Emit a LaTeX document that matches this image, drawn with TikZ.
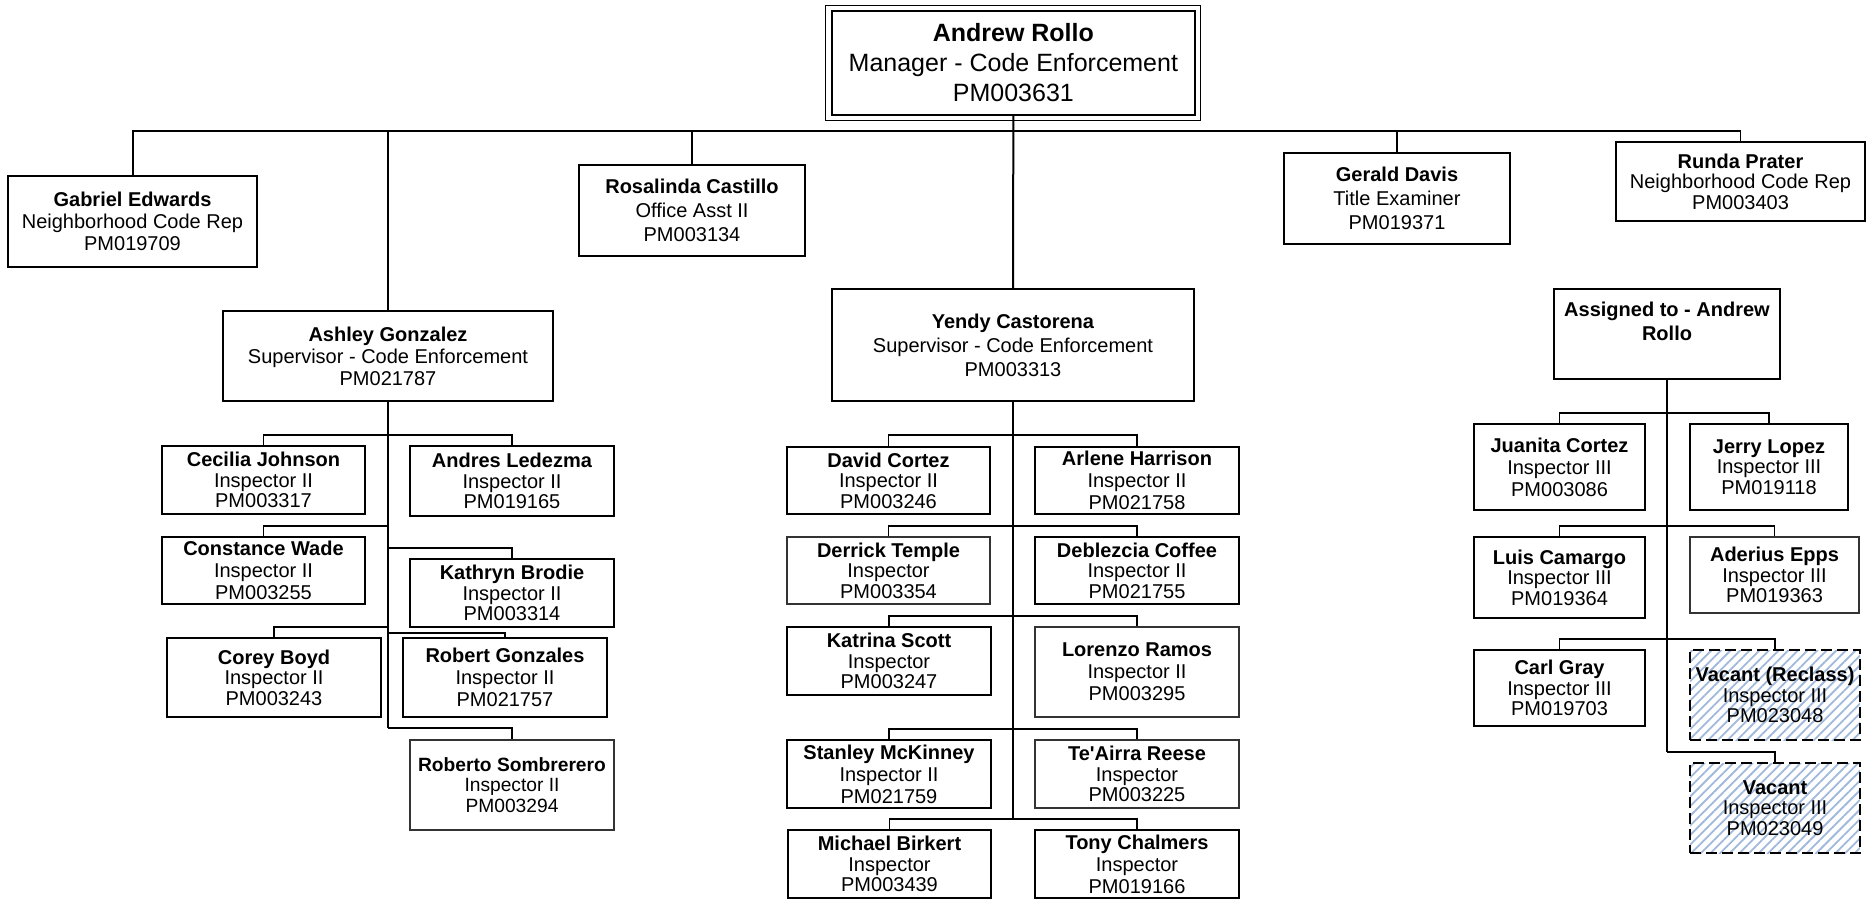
\documentclass[tikz,border=0pt]{standalone}
\usepackage{fontspec}
\setmainfont{Liberation Sans}
\newfontfamily\plainsans{Liberation Sans}
\usetikzlibrary{fit,patterns.meta}
\definecolor{hatchblue}{RGB}{160,184,220}
\newcommand{\orgbox}[8]{%
  \node[#1, fit={(#4,#5) (#6,#7)}] (#3) {};
  \node[#2] (#3-t) at (#3.center) {#8};
}
\begin{document}
\begin{tikzpicture}[x=0.5pt,y=-0.5pt,
  boxst/.style={draw=black, line width=0.85pt, inner sep=0pt},
  thinbox/.style={draw=black!80, line width=0.55pt, inner sep=0pt},
  vacbox/.style={draw=black, line width=0.85pt, dash pattern=on 5.5pt off 2.5pt, inner sep=0pt,
    pattern={Lines[angle=45,distance=3.4pt,line width=0.9pt]}, pattern color=hatchblue},
  txt/.style={align=center, font=\fontsize{10pt}{10.3pt}\selectfont, inner sep=0pt},
  txtm/.style={align=center, font=\fontsize{10pt}{11pt}\selectfont, inner sep=0pt},
  txtl/.style={align=center, font=\fontsize{10pt}{12pt}\selectfont, inner sep=0pt},
  txts/.style={align=center, font=\fontsize{9.6pt}{10.3pt}\selectfont, inner sep=0pt},
  toptxt/.style={align=center, font=\fontsize{12.5pt}{15pt}\selectfont, inner sep=0pt},
  trunk/.style={line width=1pt},
  br/.style={line width=0.7pt}]
\useasboundingbox (0,0) rectangle (1871,900);

% top box
\node[draw=black, line width=1pt, inner sep=0pt, fit={(831.7,11) (1195,115)}] (top) {};
\draw[line width=0.5pt] ([shift={(-2.5pt,2.2pt)}]top.north west) rectangle ([shift={(2.2pt,-2.2pt)}]top.south east);
\node[toptxt] (top-t) at (top.center) {\textbf{Andrew Rollo}\\Manager - Code Enforcement\\PM003631};

% direct reports
\orgbox{boxst}{txtm}{gab}{8}{176}{257}{267}{\textbf{Gabriel Edwards}\\Neighborhood Code Rep\\PM019709}
\orgbox{boxst}{txtl}{ros}{579}{165}{805}{256}{\textbf{Rosalinda Castillo}\\Office Asst II\\PM003134}
\orgbox{boxst}{txtl}{ger}{1284}{153}{1510}{244}{\textbf{Gerald Davis}\\Title Examiner\\PM019371}
\orgbox{boxst}{txt}{run}{1616}{142}{1865}{221}{\textbf{Runda Prater}\\Neighborhood Code Rep\\PM003403}
\orgbox{boxst}{txtm}{ash}{223}{311}{553}{401}{\textbf{Ashley Gonzalez}\\Supervisor - Code Enforcement\\PM021787}
\orgbox{boxst}{txtl}{yen}{832}{289}{1194}{401}{\textbf{Yendy Castorena}\\Supervisor - Code Enforcement\\PM003313}
\node[boxst, fit={(1554,289) (1780,379)}] (asg) {};
\node[txtl, yshift=6.5pt] (asg-t) at (asg.center) {\textbf{Assigned to - Andrew}\\\textbf{Rollo}};

% Ashley's team
\orgbox{boxst}{txt}{cec}{162}{446}{365}{514}{\textbf{Cecilia Johnson}\\Inspector II\\PM003317}
\orgbox{boxst}{txt}{and}{410}{446}{614}{516}{\textbf{Andres Ledezma}\\Inspector II\\PM019165}
\orgbox{boxst}{txtm}{con}{162}{537}{365}{604}{\textbf{Constance Wade}\\Inspector II\\PM003255}
\orgbox{boxst}{txt}{kat}{410}{559}{614}{627}{\textbf{Kathryn Brodie}\\Inspector II\\PM003314}
\orgbox{boxst}{txt}{cor}{167}{638}{381}{717}{\textbf{Corey Boyd}\\Inspector II\\PM003243}
\orgbox{boxst}{txtm}{rgo}{403}{638}{607}{717}{\textbf{Robert Gonzales}\\Inspector II\\PM021757}
\orgbox{thinbox}{txts}{rso}{410}{740}{614}{830}{\textbf{Roberto Sombrerero}\\Inspector II\\PM003294}

% Yendy's team
\orgbox{boxst}{txt}{dav}{787}{447}{990}{514}{\textbf{David Cortez}\\Inspector II\\PM003246}
\orgbox{boxst}{txtm}{arl}{1035}{447}{1239}{514}{\textbf{Arlene Harrison}\\Inspector II\\PM021758}
\orgbox{thinbox}{txt}{der}{787}{537}{990}{604}{\textbf{Derrick Temple}\\Inspector\\PM003354}
\orgbox{boxst}{txt}{deb}{1035}{537}{1239}{604}{\textbf{Deblezcia Coffee}\\Inspector II\\PM021755}
\orgbox{boxst}{txt}{ksc}{787}{627}{991}{695}{\textbf{Katrina Scott}\\Inspector\\PM003247}
\orgbox{thinbox}{txtm}{lor}{1035}{627}{1239}{717}{\textbf{Lorenzo Ramos}\\Inspector II\\PM003295}
\orgbox{boxst}{txtm}{sta}{787}{740}{991}{808}{\textbf{Stanley McKinney}\\Inspector II\\PM021759}
\orgbox{thinbox}{txt}{tea}{1035}{740}{1239}{808}{\textbf{Te{\plainsans'}Airra Reese}\\Inspector\\PM003225}
\orgbox{boxst}{txt}{mic}{788}{830}{991}{898}{\textbf{Michael Birkert}\\Inspector\\PM003439}
\orgbox{boxst}{txtm}{ton}{1035}{830}{1239}{898}{\textbf{Tony Chalmers}\\Inspector\\PM019166}

% Assigned team
\orgbox{boxst}{txtm}{jua}{1474}{424}{1645}{510}{\textbf{Juanita Cortez}\\Inspector III\\PM003086}
\orgbox{boxst}{txt}{jer}{1690}{424}{1848}{510}{\textbf{Jerry Lopez}\\Inspector III\\PM019118}
\orgbox{boxst}{txt}{lui}{1474}{537}{1645}{618}{\textbf{Luis Camargo}\\Inspector III\\PM019364}
\orgbox{thinbox}{txt}{ade}{1690}{537}{1859}{613}{\textbf{Aderius Epps}\\Inspector III\\PM019363}
\orgbox{boxst}{txt}{car}{1474}{650}{1645}{726}{\textbf{Carl Gray}\\Inspector III\\PM019703}
\orgbox{vacbox}{txt}{vr}{1690}{650}{1860}{740}{\textbf{Vacant (Reclass)}\\Inspector III\\PM023048}
\orgbox{vacbox}{txt}{vac}{1690}{763}{1860}{853}{\textbf{Vacant}\\Inspector III\\PM023049}

% top-level connectors
\draw[trunk] (top.south) -- (yen.north);
\draw[trunk] (gab.north) -- (gab.north |- 0,131) -- (run.north |- 0,131);
\draw[br] (run.north |- 0,131) -- (run.north);
\draw[br] (ash.north |- 0,131) -- (ash.north);
\draw[br] (ros.north |- 0,131) -- (ros.north);
\draw[br] (ger.north |- 0,131) -- (ger.north);

% Ashley's team connectors
\draw[trunk] (ash.south) -- (ash.south |- 0,728);
\draw[br] (ash.south |- 0,435) -| (cec.north);
\draw[br] (ash.south |- 0,435) -| (and.north);
\draw[br] (ash.south |- 0,526) -| (con.north);
\draw[br] (ash.south |- 0,548) -| (kat.north);
\draw[br] (ash.south |- 0,627) -| (cor.north);
\draw[br] (ash.south |- 0,633) -| (rgo.north);
\draw[br] (ash.south |- 0,728) -| (rso.north);

% Yendy's team connectors
\draw[trunk] (yen.south) -- (yen.south |- 0,819);
\draw[br] (yen.south |- 0,435) -| (dav.north);
\draw[br] (yen.south |- 0,435) -| (arl.north);
\draw[br] (yen.south |- 0,526) -| (der.north);
\draw[br] (yen.south |- 0,526) -| (deb.north);
\draw[br] (yen.south |- 0,616) -| (ksc.north);
\draw[br] (yen.south |- 0,616) -| (lor.north);
\draw[br] (yen.south |- 0,729) -| (sta.north);
\draw[br] (yen.south |- 0,729) -| (tea.north);
\draw[br] (yen.south |- 0,819) -| (mic.north);
\draw[br] (yen.south |- 0,819) -| (ton.north);

% Assigned team connectors
\draw[trunk] (asg.south) -- (asg.south |- 0,752);
\draw[br] (asg.south |- 0,413) -| (jua.north);
\draw[br] (asg.south |- 0,413) -| (jer.north);
\draw[br] (asg.south |- 0,526) -| (lui.north);
\draw[br] (asg.south |- 0,526) -| (ade.north);
\draw[br] (asg.south |- 0,639) -| (car.north);
\draw[br] (asg.south |- 0,639) -| (vr.north);
\draw[br] (asg.south |- 0,752) -| (vac.north);
\end{tikzpicture}
\end{document}
